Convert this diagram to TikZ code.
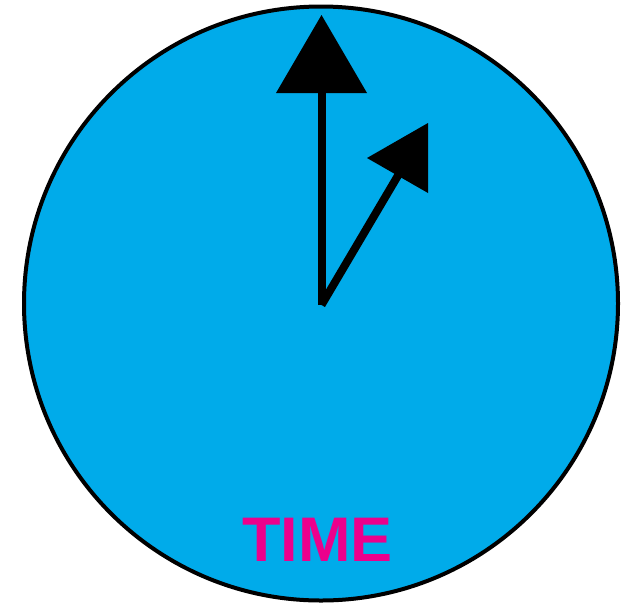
\documentclass[tikz,border=0pt]{standalone}
\usepackage{fontspec}
\setmainfont{Liberation Sans}
\definecolor{dial}{HTML}{00ABEA}
\definecolor{label}{HTML}{EC008C}
\tikzset{
  face/.style = {draw=black, line width=4pt, fill=dial},
  hand/.style = {draw=black, line width=8pt},
  tip/.style  = {fill=black},
  word/.style = {font=\fontsize{63}{63}\selectfont\bfseries, text=label, inner sep=0pt},
}
\begin{document}
\begin{tikzpicture}[x=1pt,y=-1pt]
  \useasboundingbox (0,0) rectangle (642,603);
  \draw[face] (321,303.5) circle (297);

  \coordinate (hub) at (321.5,305);
  \coordinate (long) at (321.5,92);
  \coordinate (short) at (406,162);

  % hands
  \draw[hand] (hub) -- (long);
  \draw[hand] (hub) -- (short);
  \fill[tip] (276,93) -- (367,93) -- (321.5,15) -- cycle;
  \fill[tip] (428,123) -- (428,193) -- (367,158) -- cycle;

  \node[word] (time) at (317.5,540) {TIME};
\end{tikzpicture}
\end{document}
